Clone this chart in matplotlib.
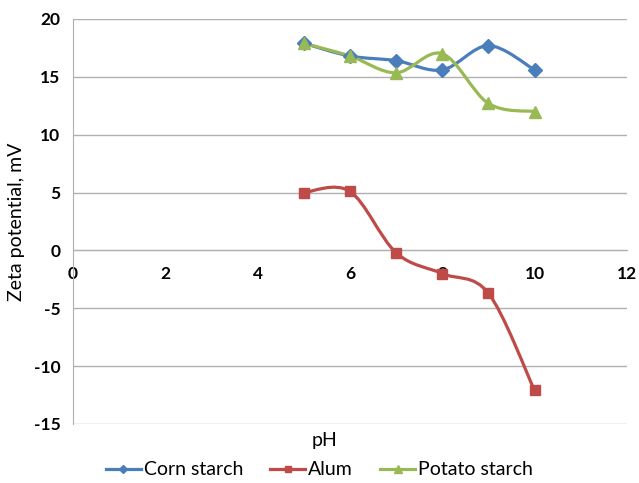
import numpy as np
import matplotlib.pyplot as plt
from matplotlib.path import Path
from matplotlib.patches import PathPatch

ph = [5, 6, 7, 8, 9, 10]
corn = [17.9, 16.8, 16.4, 15.6, 17.7, 15.6]
alum = [5.0, 5.1, -0.2, -2.0, -3.7, -12.1]
potato = [17.9, 16.8, 15.35, 17.0, 12.7, 12.0]

plt.rcParams['font.family'] = ['Lato', 'DejaVu Sans']
plt.rcParams['axes.unicode_minus'] = False


def smooth_path(x, y):
    # Excel-style smoothed line: cubic Bezier, Catmull-Rom tangents
    pts = np.column_stack([x, y]).astype(float)
    n = len(pts)
    verts = [pts[0]]
    codes = [Path.MOVETO]
    for i in range(n - 1):
        p0 = pts[i - 1] if i > 0 else pts[i]
        p1 = pts[i]
        p2 = pts[i + 1]
        p3 = pts[i + 2] if i + 2 < n else pts[i + 1]
        c1 = p1 + (p2 - p0) / 6.0
        c2 = p2 - (p3 - p1) / 6.0
        verts += [c1, c2, p2]
        codes += [Path.CURVE4] * 3
    return Path(verts, codes)


fig = plt.figure(figsize=(6.39, 4.83), dpi=100)
ax = fig.add_axes([0.1142, 0.1222, 0.8668, 0.8385])

series = [
    ("Corn starch", corn, "#4A7EBB", "D", 7),
    ("Alum", alum, "#BE4B48", "s", 7.5),
    ("Potato starch", potato, "#98B954", "^", 8.5),
]

for label, vals, col, mk, ms in series:
    ax.add_patch(PathPatch(smooth_path(ph, vals), facecolor="none",
                           edgecolor=col, lw=2.3, zorder=3))
    ax.plot(ph, vals, linestyle="none", marker=mk, ms=ms, color=col,
            zorder=4)
    ax.plot([], [], color=col, lw=2.3, marker=mk, ms=ms * 0.6, label=label)

ax.set_xlim(0, 12)
ax.set_ylim(-15, 20)
ax.set_xticks(range(0, 13, 2))
ax.set_yticks(range(-15, 21, 5))
ax.yaxis.grid(True, color="#b0b0b0", lw=1)
ax.set_axisbelow(True)

for s in ["top", "right"]:
    ax.spines[s].set_visible(False)
ax.spines["left"].set_color("#b0b0b0")
ax.spines["bottom"].set_position(("data", 0))
ax.spines["bottom"].set_color("#b0b0b0")
ax.tick_params(axis="both", length=0, labelsize=12.5)
ax.tick_params(axis="x", pad=11)
ax.tick_params(axis="y", pad=9)
for t in ax.get_xticklabels() + ax.get_yticklabels():
    t.set_fontweight("bold")

ax.set_ylabel("Zeta potential, mV", fontsize=14, labelpad=6)
fig.text(0.508, 0.088, "pH", ha="center", va="center", fontsize=14)

fig.legend(loc="center", bbox_to_anchor=(0.5, 0.027), ncol=3, frameon=False,
           fontsize=14, handlelength=1.8, handletextpad=0.15, columnspacing=1.4)

fig.savefig("out.png", dpi=100)
